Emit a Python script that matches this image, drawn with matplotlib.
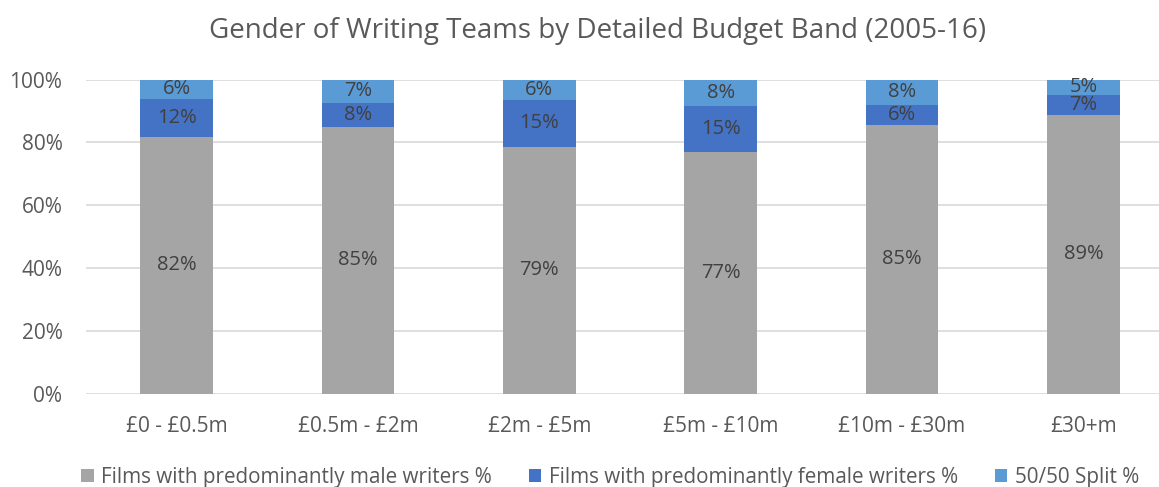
import numpy as np
import matplotlib
matplotlib.use('Agg')
import matplotlib.pyplot as plt
from matplotlib.ticker import FuncFormatter

bands = ['£0 - £0.5m', '£0.5m - £2m', '£2m - £5m', '£5m - £10m', '£10m - £30m', '£30+m']
male = [81.8, 84.8, 78.6, 76.8, 85.4, 88.6]
female = [12.0, 7.8, 15.0, 14.8, 6.4, 6.6]
split = [6.2, 7.4, 6.4, 8.4, 8.2, 4.8]
series_names = ['Films with predominantly male writers %',
                'Films with predominantly female writers %',
                '50/50 Split %']
colors = ['#a5a5a5', '#4472c4', '#5b9bd5']

plt.rcParams['font.family'] = ['Open Sans', 'DejaVu Sans']
text_col = '#595959'

fig = plt.figure(figsize=(11.59, 4.87), dpi=100)
ax = fig.add_axes([86 / 1159, 1 - 393.5 / 487, 1088 / 1159, 314 / 487])

x = np.arange(len(bands))
bottom = np.zeros(len(bands))
for vals, name, c in zip([male, female, split], series_names, colors):
    vals = np.array(vals)
    ax.bar(x, vals, width=0.4, bottom=bottom, color=c, label=name, zorder=2)
    for xi, b, v in zip(x, bottom, vals):
        ax.text(xi, b + v / 2, '%.0f%%' % v, ha='center', va='center',
                fontsize=14.5, color='#404040', zorder=3)
    bottom += vals

ax.set_xlim(-0.5, len(bands) - 0.5)
ax.set_ylim(0, 100)
ax.set_yticks(range(0, 101, 20))
ax.yaxis.set_major_formatter(FuncFormatter(lambda v, p: '%d%%' % v))
ax.yaxis.grid(True, color='#d9d9d9', linewidth=1.2, zorder=0)
ax.set_xticks(x)
ax.set_xticklabels(bands)
ax.tick_params(axis='both', length=0, labelsize=15, colors=text_col)
ax.tick_params(axis='y', pad=17)
ax.tick_params(axis='x', pad=16)
for s in ax.spines.values():
    s.set_visible(False)

fig.text(598 / 1159, 1 - 31 / 487, 'Gender of Writing Teams by Detailed Budget Band (2005-16)',
         ha='center', va='center', fontsize=20, color=text_col)

fig.legend(loc='center', bbox_to_anchor=(610 / 1159, 1 - 477 / 487), ncol=3,
           frameon=False, fontsize=14.9, labelcolor=text_col, handlelength=0.6,
           handleheight=0.6, handletextpad=0.35, columnspacing=1.8)

fig.savefig('out.png', dpi=100)
